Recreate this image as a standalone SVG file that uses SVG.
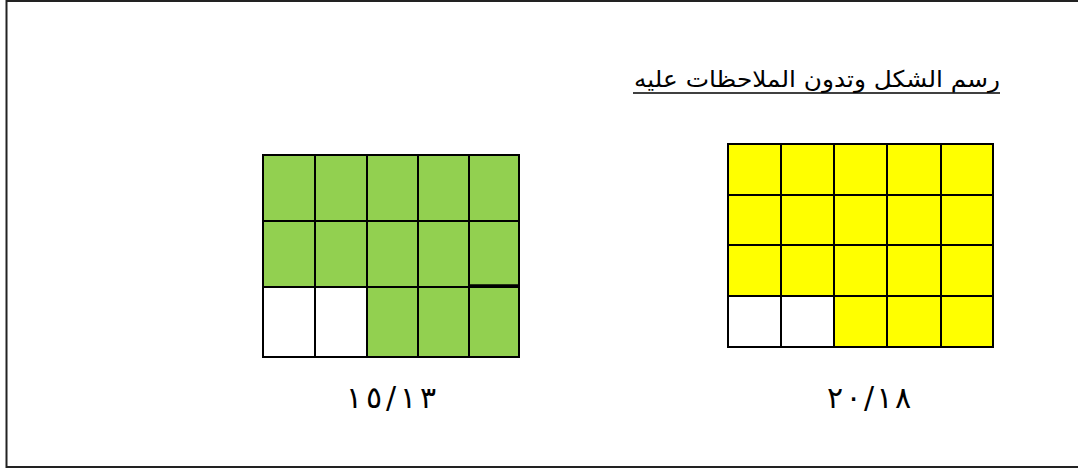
<svg xmlns="http://www.w3.org/2000/svg" width="1078" height="470" viewBox="0 0 1078 470">
<style>
.g{fill:#92d050;stroke:#000;stroke-width:2}
.y{fill:#ffff00;stroke:#000;stroke-width:2}
.w{fill:#fff;stroke:#000;stroke-width:2}
.t{font-family:"DejaVu Sans",sans-serif;fill:#000}
</style>
<rect x="0" y="0" width="1078" height="470" fill="#fff"/>
<rect x="6.5" y="1" width="1080" height="466" fill="none" stroke="#222" stroke-width="2"/>
<g id="title">
<text class="t" x="817" y="87" font-size="23" text-anchor="middle" direction="rtl" textLength="366" lengthAdjust="spacingAndGlyphs">رسم الشكل وتدون الملاحظات عليه</text>
<line x1="633" y1="93" x2="1000" y2="93" stroke="#000" stroke-width="1.5"/>
</g>
<g id="green-grid">
<rect class="g" x="263" y="155" width="52" height="66"/>
<rect class="g" x="315" y="155" width="52" height="66"/>
<rect class="g" x="367" y="155" width="51" height="66"/>
<rect class="g" x="418" y="155" width="51" height="66"/>
<rect class="g" x="469" y="155" width="50" height="66"/>
<rect class="g" x="263" y="221" width="52" height="66"/>
<rect class="g" x="315" y="221" width="52" height="66"/>
<rect class="g" x="367" y="221" width="51" height="66"/>
<rect class="g" x="418" y="221" width="51" height="66"/>
<rect class="g" x="469" y="221" width="50" height="66"/>
<rect class="w" x="263" y="287" width="52" height="70"/>
<rect class="w" x="315" y="287" width="52" height="70"/>
<rect class="g" x="367" y="287" width="51" height="70"/>
<rect class="g" x="418" y="287" width="51" height="70"/>
<rect class="g" x="469" y="287" width="50" height="70"/>
<line x1="469" y1="285.5" x2="519" y2="285.5" stroke="#000" stroke-width="2.5"/>
</g>
<g id="yellow-grid">
<rect class="y" x="728" y="144" width="53" height="51"/>
<rect class="y" x="781" y="144" width="53" height="51"/>
<rect class="y" x="834" y="144" width="53" height="51"/>
<rect class="y" x="887" y="144" width="54" height="51"/>
<rect class="y" x="941" y="144" width="52" height="51"/>
<rect class="y" x="728" y="195" width="53" height="50"/>
<rect class="y" x="781" y="195" width="53" height="50"/>
<rect class="y" x="834" y="195" width="53" height="50"/>
<rect class="y" x="887" y="195" width="54" height="50"/>
<rect class="y" x="941" y="195" width="52" height="50"/>
<rect class="y" x="728" y="245" width="53" height="51"/>
<rect class="y" x="781" y="245" width="53" height="51"/>
<rect class="y" x="834" y="245" width="53" height="51"/>
<rect class="y" x="887" y="245" width="54" height="51"/>
<rect class="y" x="941" y="245" width="52" height="51"/>
<rect class="w" x="728" y="296" width="53" height="51"/>
<rect class="w" x="781" y="296" width="53" height="51"/>
<rect class="y" x="834" y="296" width="53" height="51"/>
<rect class="y" x="887" y="296" width="54" height="51"/>
<rect class="y" x="941" y="296" width="52" height="51"/>
</g>
<g id="label-green">
<text class="t" x="391" y="408" font-size="30" text-anchor="middle" textLength="90" lengthAdjust="spacing">١٥/١٣</text>
</g>
<g id="label-yellow">
<text class="t" x="869" y="408" font-size="30" text-anchor="middle" textLength="84" lengthAdjust="spacing">٢٠/١٨</text>
</g>
</svg>
